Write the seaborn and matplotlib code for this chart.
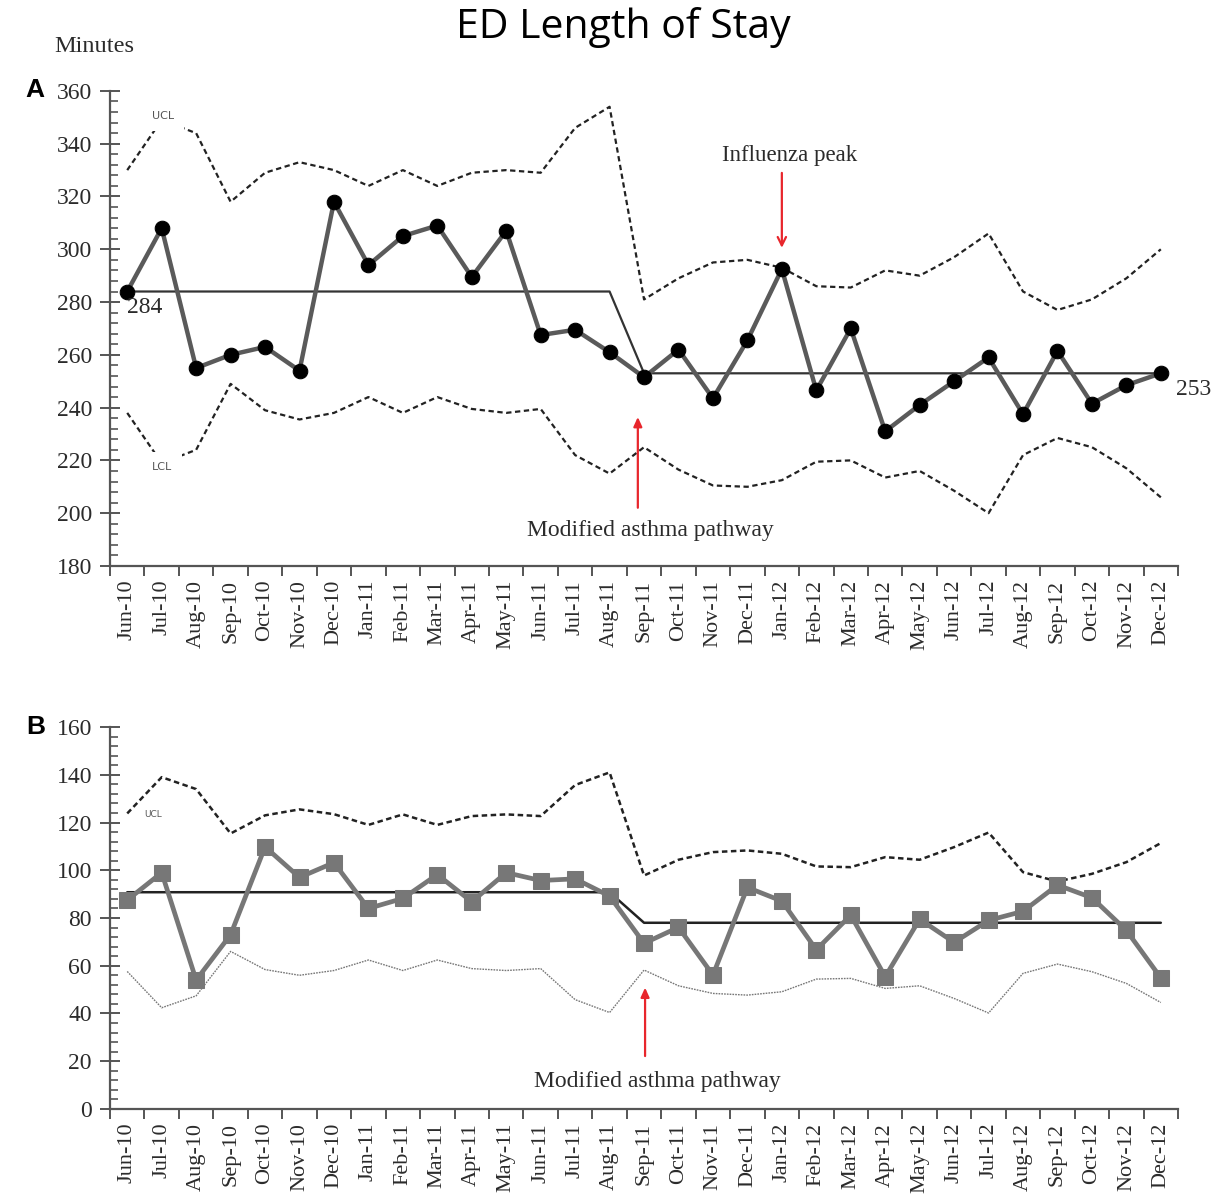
import matplotlib
matplotlib.use("Agg")
import matplotlib.pyplot as plt
from matplotlib.ticker import FixedLocator, MultipleLocator, NullFormatter, FixedFormatter
import pandas as pd
import seaborn as sns

# ---- data -------------------------------------------------------------
months = ["Jun-10", "Jul-10", "Aug-10", "Sep-10", "Oct-10", "Nov-10", "Dec-10",
          "Jan-11", "Feb-11", "Mar-11", "Apr-11", "May-11", "Jun-11", "Jul-11",
          "Aug-11", "Sep-11", "Oct-11", "Nov-11", "Dec-11", "Jan-12", "Feb-12",
          "Mar-12", "Apr-12", "May-12", "Jun-12", "Jul-12", "Aug-12", "Sep-12",
          "Oct-12", "Nov-12", "Dec-12"]

# Panel A: all asthma ED visits, mean length of stay (minutes)
a_mean = [284, 308, 255, 260, 263, 254, 318, 294, 305, 309, 289.5, 307, 267.5,
          269.5, 261, 251.5, 262, 243.5, 265.5, 292.5, 246.5, 270, 231, 241,
          250, 259, 237.5, 261.5, 241.5, 248.5, 253]
a_center = [284, 284, 284, 284, 284, 284, 284, 284, 284, 284, 284, 284, 284,
            284, 284, 253, 253, 253, 253, 253, 253, 253, 253, 253, 253, 253,
            253, 253, 253, 253, 253]
a_ucl = [330, 349, 344, 318, 329, 333, 330, 324, 330, 324, 329, 330, 329, 346,
         354, 281, 289, 295, 296, 293, 286, 285.5, 292, 290, 297, 306, 284, 277,
         281, 289, 300]
a_lcl = [238, 219, 224, 249, 239, 235.5, 238, 244, 238, 244, 239.5, 238, 239.5,
         222, 215, 225, 216.5, 210.5, 210, 212.5, 219.5, 220, 213.5, 216, 208.5,
         200, 222, 228.5, 225, 217, 206]

# Panel B: second measure (minutes)
b_mean = [87.5, 99, 54, 73, 109.8, 97, 103.2, 84, 88.2, 98.2, 86.8, 99, 95.7,
          96.4, 89.2, 69.4, 76.1, 56.1, 92.8, 87.1, 66.7, 81.2, 55.4, 79.5,
          69.8, 79, 82.8, 93.8, 88.5, 74.8, 54.9]
b_center = [90.8, 90.8, 90.8, 90.8, 90.8, 90.8, 90.8, 90.8, 90.8, 90.8, 90.8,
            90.8, 90.8, 90.8, 90.8, 78, 78, 78, 78, 78, 78, 78, 78, 78, 78, 78,
            78, 78, 78, 78, 78]
b_ucl = [123.8, 139, 134, 115.4, 123, 125.5, 123.5, 119, 123.4, 119, 122.7,
         123.4, 122.7, 135.7, 141, 97.8, 104.4, 107.6, 108.3, 106.9, 101.6,
         101.3, 105.5, 104.4, 109.7, 115.8, 99.2, 95.3, 98.5, 103.4, 111.4]
b_lcl = [57.6, 42.4, 47.4, 66, 58.4, 56, 58, 62.4, 58, 62.4, 58.8, 58, 58.8,
         45.8, 40.4, 58.2, 51.6, 48.4, 47.7, 49.1, 54.4, 54.7, 50.5, 51.6, 46.3,
         40.2, 56.8, 60.7, 57.5, 52.6, 44.6]

idx = list(range(len(months)))
df_a = pd.DataFrame({"i": idx, "mean": a_mean, "center": a_center,
                     "ucl": a_ucl, "lcl": a_lcl})
df_b = pd.DataFrame({"i": idx, "mean": b_mean, "center": b_center,
                     "ucl": b_ucl, "lcl": b_lcl})

# ---- style ------------------------------------------------------------
sns.set_style("ticks")
plt.rcParams["font.family"] = ["Liberation Serif", "DejaVu Serif"]
plt.rcParams["axes.edgecolor"] = "#555555"
plt.rcParams["xtick.color"] = "#555555"
plt.rcParams["ytick.color"] = "#555555"

fig = plt.figure(figsize=(12.17, 11.95), dpi=100)
ax_a = fig.add_axes([0.0904, 0.5264, 0.8776, 0.3975])
ax_b = fig.add_axes([0.0904, 0.0720, 0.8776, 0.3196])

TXT = "#2b2b2b"
RED = "#e8262c"


def style_axis(ax, ymin, ymax):
    ax.set_xlim(-0.5, len(months) - 0.5)
    ax.set_ylim(ymin, ymax)
    sns.despine(ax=ax)
    for s in ("left", "bottom"):
        ax.spines[s].set_linewidth(1.6)
    # month boundaries carry the tick marks, centres carry the labels
    ax.xaxis.set_major_locator(FixedLocator([i - 0.5 for i in range(len(months) + 1)]))
    ax.xaxis.set_major_formatter(NullFormatter())
    ax.xaxis.set_minor_locator(FixedLocator(idx))
    ax.xaxis.set_minor_formatter(FixedFormatter(months))
    ax.tick_params(axis="x", which="major", direction="out", length=7, width=1.4)
    ax.tick_params(axis="x", which="minor", length=0, pad=10, labelsize=16,
                   labelrotation=90, labelcolor=TXT)
    ax.yaxis.set_major_locator(MultipleLocator(20))
    ax.yaxis.set_minor_locator(MultipleLocator(4))
    ax.tick_params(axis="y", which="major", direction="inout", length=14,
                   width=1.4, labelsize=17, labelcolor=TXT, pad=6)
    ax.tick_params(axis="y", which="minor", direction="in", length=6, width=1.2)
    ax.set_xlabel("")
    ax.set_ylabel("")


# ---- panel A ----------------------------------------------------------
sns.lineplot(data=df_a, x="i", y="ucl", ax=ax_a, color="#222222", lw=1.6,
             linestyle=(0, (2.4, 1.6)))
sns.lineplot(data=df_a, x="i", y="lcl", ax=ax_a, color="#222222", lw=1.6,
             linestyle=(0, (2.4, 1.6)))
sns.lineplot(data=df_a, x="i", y="center", ax=ax_a, color="#333333", lw=1.6)
sns.lineplot(data=df_a, x="i", y="mean", ax=ax_a, color="#5a5a5a", lw=3.2,
             marker="o", markersize=10.5, markerfacecolor="black",
             markeredgecolor="black")
style_axis(ax_a, 180, 360)

box = dict(boxstyle="square,pad=0.9", fc="white", ec="none")
ax_a.text(1.05, 350.5, "UCL", fontsize=8, family="DejaVu Sans", color="#555555",
          ha="center", va="center", bbox=box, zorder=5)
ax_a.text(1.0, 217.5, "LCL", fontsize=8, family="DejaVu Sans", color="#555555",
          ha="center", va="center", bbox=box, zorder=5)

ax_a.text(0.0, a_center[0] - 6, f"{a_center[0]}", fontsize=17, color=TXT,
          ha="left", va="center")
ax_a.text(30.45, a_center[-1] - 6, f"{a_center[-1]}", fontsize=17, color=TXT,
          ha="left", va="center", clip_on=False)

ax_a.annotate("", xy=(19, 299.5), xytext=(19, 330),
              arrowprops=dict(arrowstyle="->,head_length=0.6,head_width=0.3",
                              color=RED, lw=1.6))
ax_a.text(19.23, 335.5, "Influenza peak", fontsize=16.5, color=TXT,
          ha="center", va="center")
ax_a.annotate("", xy=(14.82, 237.5), xytext=(14.82, 201),
              arrowprops=dict(arrowstyle="-|>,head_length=0.55,head_width=0.25",
                              color=RED, lw=1.6))
ax_a.text(15.17, 193.5, "Modified asthma pathway", fontsize=17, color=TXT,
          ha="center", va="center")

# ---- panel B ----------------------------------------------------------
sns.lineplot(data=df_b, x="i", y="ucl", ax=ax_b, color="#222222", lw=1.8,
             linestyle=(0, (2.2, 1.4)))
sns.lineplot(data=df_b, x="i", y="lcl", ax=ax_b, color="#777777", lw=1.0,
             linestyle=(0, (1.2, 0.8)))
sns.lineplot(data=df_b, x="i", y="center", ax=ax_b, color="#222222", lw=1.8)
sns.lineplot(data=df_b, x="i", y="mean", ax=ax_b, color="#777777", lw=3.4,
             marker="s", markersize=11, markerfacecolor="#777777",
             markeredgecolor="#777777")
style_axis(ax_b, 0, 160)

ax_b.text(0.75, 123.5, "UCL", fontsize=6.5, family="DejaVu Sans",
          color="#555555", ha="center", va="center")
ax_b.annotate("", xy=(15.03, 52), xytext=(15.03, 21),
              arrowprops=dict(arrowstyle="-|>,head_length=0.55,head_width=0.25",
                              color=RED, lw=1.6))
ax_b.text(15.4, 11.3, "Modified asthma pathway", fontsize=17, color=TXT,
          ha="center", va="center")

# ---- figure text ------------------------------------------------------
fig.text(0.512, 0.9766, "ED Length of Stay", fontsize=29.5, family="Open Sans",
         color="black", ha="center", va="center")
fig.text(0.045, 0.9607, "Minutes", fontsize=17.5, color=TXT, ha="left",
         va="center")
fig.text(0.029, 0.9247, "A", fontsize=19, family="Liberation Sans",
         weight="bold", color="black", ha="center", va="center")
fig.text(0.029, 0.3916, "B", fontsize=19, family="Liberation Sans",
         weight="bold", color="black", ha="center", va="center")

fig.savefig("out.png", dpi=100, facecolor="white")
